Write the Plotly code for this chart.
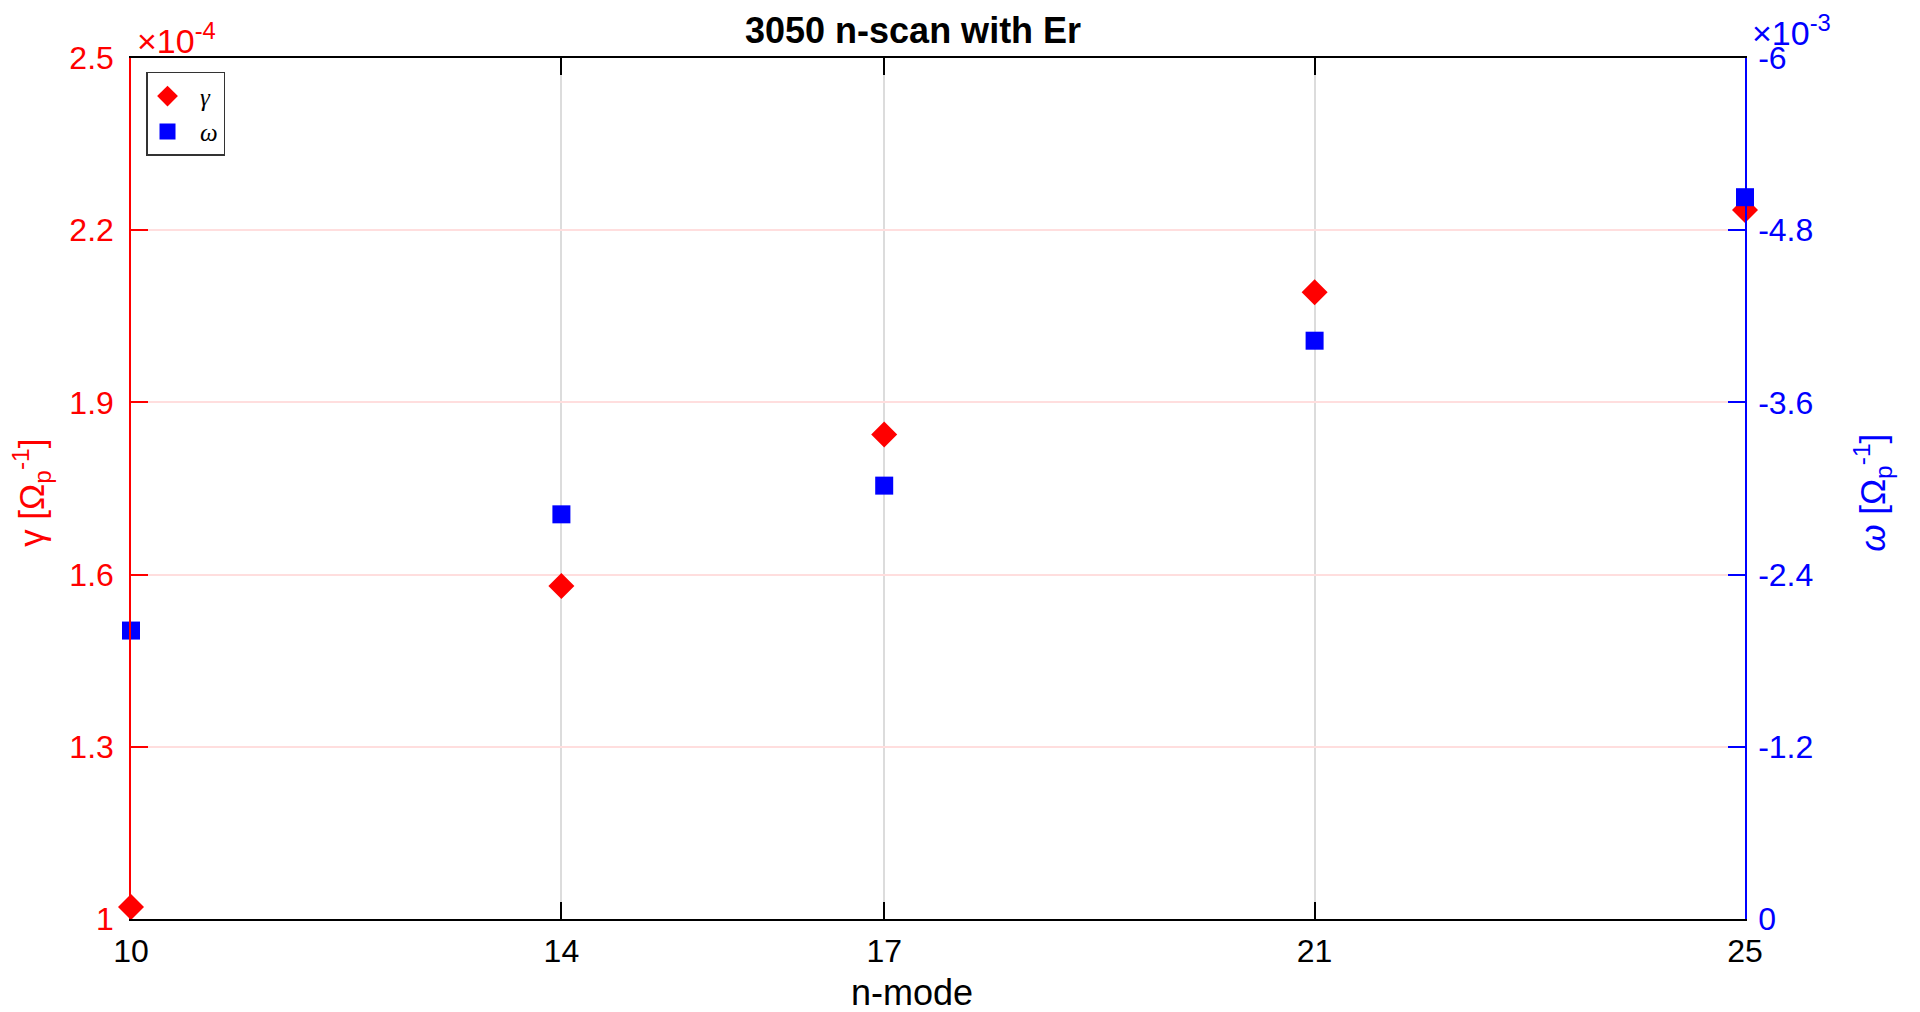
import plotly.graph_objects as go

# Data
n_mode = [10, 14, 17, 21, 25]
gamma = [1.021e-4, 1.580e-4, 1.844e-4, 2.092e-4, 2.235e-4]   # [Omega_p^-1]
omega = [-2.01e-3, -2.82e-3, -3.02e-3, -4.03e-3, -5.03e-3]   # [Omega_p^-1]

x_ticks = [10, 14, 17, 21, 25]
gamma_ticks = [1, 1.3, 1.6, 1.9, 2.2, 2.5]
gamma_ticklabels = ["1", "1.3", "1.6", "1.9", "2.2", "2.5"]
omega_ticks = [0, -1.2, -2.4, -3.6, -4.8, -6]
omega_ticklabels = ["0", "-1.2", "-2.4", "-3.6", "-4.8", "-6"]

gamma_scale = 1e-4
omega_scale = 1e-3

FONT = "Liberation Sans, Arial, Helvetica, sans-serif"
SERIF = "Liberation Serif, DejaVu Serif, serif"
RED = "#ff0000"
BLUE = "#0000ff"
NB = "\u00a0"

fig = go.Figure()
fig.add_trace(go.Scatter(
    x=n_mode, y=[g / gamma_scale for g in gamma], mode="markers",
    name=NB * 2 + "<i>γ</i>", yaxis="y",
    marker=dict(symbol="diamond", size=20, color=RED, line=dict(width=0)),
    cliponaxis=False,
))
fig.add_trace(go.Scatter(
    x=n_mode, y=[w / omega_scale for w in omega], mode="markers",
    name=NB * 2 + "<i>ω</i>", yaxis="y2",
    marker=dict(symbol="square", size=18, color=BLUE, line=dict(width=0)),
    cliponaxis=False,
))

# page body has an 8px margin: compensate so that the plot area sits at
# x 131..1745, y 58..919 in the window
fig.update_layout(
    width=1920, height=1012,
    margin=dict(l=123, r=183, t=50, b=101),
    paper_bgcolor="white", plot_bgcolor="white",
    font=dict(family=FONT, size=32, color="black"),
    showlegend=True,
    legend=dict(
        x=0.0093, y=0.984, xanchor="left", yanchor="top",
        bordercolor="#333333", borderwidth=1.5, bgcolor="white",
        font=dict(family=SERIF, size=25, color="black"),
        itemwidth=30, tracegroupgap=0,
    ),
    xaxis=dict(
        range=[10, 25], tickmode="array", tickvals=x_ticks,
        ticktext=[str(v) for v in x_ticks],
        showline=True, linecolor="black", linewidth=1.5, mirror="ticks",
        ticks="inside", ticklen=17, tickwidth=1.5, tickcolor="black",
        showgrid=True, gridcolor="#dcdcdc", gridwidth=1.5,
        zeroline=False, tickfont=dict(size=32, color="black"),
        ticklabelstandoff=3,
    ),
    yaxis=dict(
        range=[1, 2.5], tickmode="array", tickvals=gamma_ticks,
        ticktext=gamma_ticklabels,
        showline=True, linecolor=RED, linewidth=1.5,
        ticks="inside", ticklen=17, tickwidth=1.5, tickcolor=RED,
        showgrid=True, gridcolor="#ffdede", gridwidth=1.5,
        zeroline=False, tickfont=dict(size=32, color=RED),
        ticklabelstandoff=9,
    ),
    yaxis2=dict(
        range=[0, -6], tickmode="array", tickvals=omega_ticks,
        ticktext=omega_ticklabels, overlaying="y", side="right",
        showline=True, linecolor=BLUE, linewidth=1.5,
        ticks="inside", ticklen=17, tickwidth=1.5, tickcolor=BLUE,
        showgrid=False, zeroline=False, tickfont=dict(size=32, color=BLUE),
        ticklabelstandoff=5,
    ),
)

annotations = [
    dict(text="<b>3050 n-scan with Er</b>", x=0.4845, y=1.0314, xref="paper", yref="paper",
         xanchor="center", yanchor="middle", showarrow=False,
         font=dict(family=FONT, size=36, color="black")),
    dict(text="n-mode", x=0.4839, y=-0.0848, xref="paper", yref="paper",
         xanchor="center", yanchor="middle", showarrow=False,
         font=dict(family=FONT, size=36, color="black")),
    dict(text="γ [Ω<sub>p</sub><sup>-1</sup>]", x=-0.0613, y=0.495, xref="paper", yref="paper",
         xanchor="center", yanchor="middle", textangle=-90, showarrow=False,
         font=dict(family=FONT, size=35, color=RED)),
    dict(text="<i>ω</i> [Ω<sub>p</sub><sup>-1</sup>]", x=1.0793, y=0.495, xref="paper", yref="paper",
         xanchor="center", yanchor="middle", textangle=-90, showarrow=False,
         font=dict(family=FONT, size=35, color=BLUE)),
    dict(text="×10<sup>-4</sup>", x=0.0025, y=0.995, xref="paper", yref="paper",
         xanchor="left", yanchor="bottom", showarrow=False,
         font=dict(family=FONT, size=34, color=RED)),
    dict(text="×10<sup>-3</sup>", x=1.0031, y=1.005, xref="paper", yref="paper",
         xanchor="left", yanchor="bottom", showarrow=False,
         font=dict(family=FONT, size=34, color=BLUE)),
]
fig.update_layout(annotations=annotations)

fig.write_html("out.html")
